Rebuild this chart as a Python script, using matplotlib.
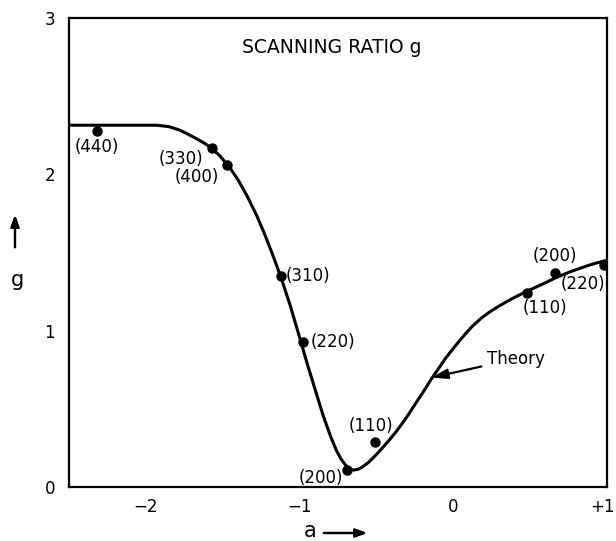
import numpy as np
import matplotlib.pyplot as plt
from matplotlib.transforms import ScaledTranslation

# theory curve
theory_a = [-2.5, -2.2, -1.93, -1.85, -1.78, -1.736, -1.68, -1.62, -1.57, -1.52,
            -1.455, -1.40, -1.34, -1.28, -1.23, -1.18, -1.12, -1.06, -1.0, -0.95,
            -0.9, -0.85, -0.8, -0.76, -0.73, -0.70, -0.675, -0.65, -0.62, -0.59,
            -0.55, -0.502, -0.46, -0.416, -0.37, -0.33, -0.29, -0.243, -0.19,
            -0.145, -0.10, -0.048, 0.0, 0.039, 0.08, 0.125, 0.18, 0.234, 0.29,
            0.342, 0.40, 0.472, 0.54, 0.602, 0.667, 0.72, 0.775, 0.83, 0.883,
            0.93, 0.98, 1.0]
theory_g = [2.314, 2.314, 2.314, 2.305, 2.283, 2.262, 2.233, 2.20, 2.165, 2.12,
            2.045, 1.965, 1.86, 1.74, 1.625, 1.50, 1.34, 1.16, 0.96, 0.79,
            0.63, 0.47, 0.33, 0.235, 0.18, 0.14, 0.118, 0.108, 0.113, 0.128,
            0.158, 0.205, 0.25, 0.30, 0.355, 0.408, 0.465, 0.536, 0.615,
            0.686, 0.75, 0.825, 0.885, 0.932, 0.98, 1.028, 1.077, 1.117, 1.152,
            1.182, 1.213, 1.248, 1.279, 1.307, 1.338, 1.36, 1.381, 1.40, 1.418,
            1.432, 1.445, 1.45]

# measured points
meas_a = [-2.32, -1.57, -1.47, -1.12, -0.98, -0.69, -0.51, 0.48, 0.66, 0.98]
meas_g = [2.28, 2.17, 2.06, 1.35, 0.93, 0.11, 0.29, 1.24, 1.37, 1.42]
meas_lbl = ['(440)', '(330)', '(400)', '(310)', '(220)', '(200)', '(110)',
            '(110)', '(200)', '(220)']
# label offsets in points and alignment
lbl_off = [(0, -12), (-22, -8), (-22, -9), (3.5, 0), (6, 0), (-3, -6),
           (-3, 11), (13, -11), (0, 12), (-15, -14)]
lbl_ha = ['center', 'center', 'center', 'left', 'left', 'right',
          'center', 'center', 'center', 'center']

xtick_pos = [-2, -1, 0, 1]
xtick_lbl = ['\u22122', '\u22121', '0', '+1']
ytick_pos = [0, 1, 2, 3]

fig = plt.figure(figsize=(6.16, 5.41), dpi=100)
ax = fig.add_axes([0.112, 0.0998, 0.873, 0.867])

ax.plot(theory_a, theory_g, color='black', lw=2.2, solid_joinstyle='round')
ax.plot(meas_a, meas_g, 'o', color='black', ms=6.5)

for a, g, t, off, ha in zip(meas_a, meas_g, meas_lbl, lbl_off, lbl_ha):
    ax.annotate(t, (a, g), xytext=off, textcoords='offset points',
                ha=ha, va='center', fontsize=12)

ax.annotate('Theory', xy=(-0.14, 0.70), xytext=(0.22, 0.82),
            ha='left', va='center', fontsize=12,
            arrowprops=dict(arrowstyle='-|>,head_length=0.8,head_width=0.25',
                            color='black', lw=1.6, shrinkA=2, shrinkB=0))

ax.text(-0.79, 2.81, 'SCANNING RATIO g', ha='center', va='center', fontsize=13.5)

ax.set_xlim(-2.5, 1)
ax.set_ylim(0, 3)

# labels on major ticks, marks only on the inner ones
ax.set_xticks(xtick_pos)
ax.set_xticklabels(xtick_lbl)
ax.set_yticks(ytick_pos)
ax.set_xticks(xtick_pos[:-1], minor=True)
ax.set_yticks(ytick_pos[1:-1], minor=True)
ax.tick_params(which='major', length=0, labelsize=12)
ax.tick_params(axis='x', which='major', pad=8)
ax.tick_params(axis='y', which='major', pad=10)
ax.tick_params(which='minor', direction='in', length=14, width=1.6)
for s in ax.spines.values():
    s.set_linewidth(1.6)
last = ax.get_xticklabels()[-1]
last.set_transform(last.get_transform() + ScaledTranslation(-4 / 100, 0, fig.dpi_scale_trans))

# axis names with arrows
fig.text(17 / 616, 1 - 280 / 541, 'g', ha='center', va='center', fontsize=15)
fig.add_artist(plt.annotate('', xy=(15 / 616, 1 - 212 / 541),
                            xytext=(15 / 616, 1 - 250 / 541),
                            xycoords='figure fraction',
                            arrowprops=dict(arrowstyle='-|>,head_length=0.7,head_width=0.25',
                                            color='black', lw=1.6)))
fig.text(310 / 616, 1 - 531 / 541, 'a', ha='center', va='center', fontsize=15)
fig.add_artist(plt.annotate('', xy=(370 / 616, 1 - 533 / 541),
                            xytext=(321 / 616, 1 - 533 / 541),
                            xycoords='figure fraction',
                            arrowprops=dict(arrowstyle='-|>,head_length=0.7,head_width=0.25',
                                            color='black', lw=1.6)))

fig.savefig('out.png', dpi=100)
